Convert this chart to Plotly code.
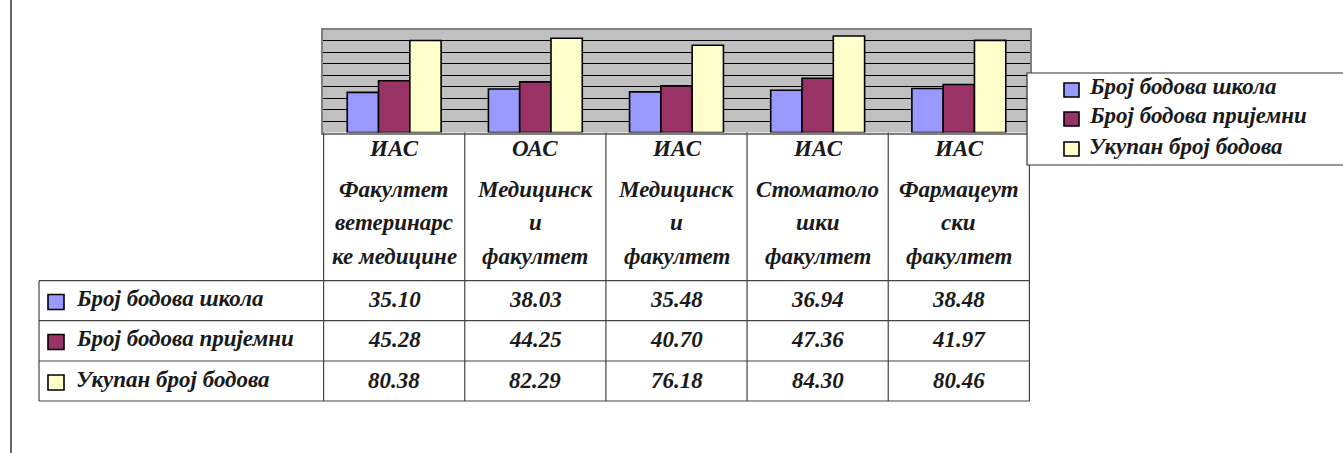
import plotly.graph_objects as go

# ---------------- data ----------------
series_names = ["Број бодова школа", "Број бодова пријемни", "Укупан број бодова"]
series_colors = ["#9999FF", "#993366", "#FFFFCC"]
school_points = [35.10, 38.03, 35.48, 36.94, 38.48]
exam_points = [45.28, 44.25, 40.70, 47.36, 41.97]
total_points = [80.38, 82.29, 76.18, 84.30, 80.46]
study_type = ["ИАС", "ОАС", "ИАС", "ИАС", "ИАС"]
faculty_lines = [
    ["Факултет", "ветеринарс", "ке медицине"],
    ["Медицинск", "и", "факултет"],
    ["Медицинск", "и", "факултет"],
    ["Стоматоло", "шки", "факултет"],
    ["Фармацеут", "ски", "факултет"],
]
categories = [t + " " + "".join(f) for t, f in zip(study_type, faculty_lines)]
series_values = [school_points, exam_points, total_points]

# ---------------- layout helpers ----------------
W, H = 1343, 453
def px(x):
    return x / W
def py(y):
    return 1 - y / H

def font():
    return dict(family="Liberation Serif", size=23, style="italic", weight="bold")

fig = go.Figure()
for name, vals, col in zip(series_names, series_values, series_colors):
    fig.add_trace(go.Bar(x=categories, y=vals, name=name,
                         marker=dict(color=col, line=dict(color="black", width=1.6)),
                         showlegend=False, hoverinfo="skip"))

shapes = []
annotations = []
LINE = dict(color="#444444", width=1.2)

# table grid (columns follow the category axis)
row_lines = [280.7, 320.7, 361, 401]
for yv in row_lines:
    shapes.append(dict(type="line", xref="paper", yref="paper", x0=px(39), x1=px(1030),
                       y0=py(yv), y1=py(yv), line=LINE))
shapes.append(dict(type="line", xref="paper", yref="paper", x0=px(39), x1=px(39),
                   y0=py(280.7), y1=py(401), line=LINE))
for k in range(len(categories) + 1):
    shapes.append(dict(type="line", xref="x", yref="paper", x0=k - 0.5, x1=k - 0.5,
                       y0=py(132.5), y1=py(401), line=LINE))

# outer chart border (left edge visible)
shapes.append(dict(type="line", xref="paper", yref="paper", x0=px(11), x1=px(11),
                   y0=0, y1=1, line=dict(color="black", width=1.2)))

# header text
for i, cat in enumerate(categories):
    annotations.append(dict(x=cat, xref="x", y=py(148), yref="paper", text=study_type[i],
                            showarrow=False, font=font(), xanchor="center", yanchor="middle"))
    for j, line in enumerate(faculty_lines[i]):
        yy = [189, 222, 256][j]
        annotations.append(dict(x=cat, xref="x", y=py(yy), yref="paper", text=line,
                                showarrow=False, font=font(), xanchor="center", yanchor="middle"))

# data rows
row_centers = [300.5, 340.5, 381]
for r, (name, vals, col) in enumerate(zip(series_names, series_values, series_colors)):
    yc = row_centers[r]
    shapes.append(dict(type="rect", xref="paper", yref="paper", x0=px(48), x1=px(64),
                       y0=py(yc - 6), y1=py(yc + 9),
                       fillcolor=col, line=dict(color="black", width=1.6)))
    annotations.append(dict(x=px(74), xref="paper", y=py(yc - 2), yref="paper", text=name,
                            showarrow=False, font=font(), xanchor="left", yanchor="middle"))
    for i, cat in enumerate(categories):
        annotations.append(dict(x=cat, xref="x", y=py(yc - 1), yref="paper",
                                text=f"{vals[i]:.2f}", showarrow=False, font=font(),
                                xanchor="center", yanchor="middle"))

# legend box
shapes.append(dict(type="rect", xref="paper", yref="paper", x0=px(1027), x1=px(1360),
                   y0=py(165), y1=py(73), fillcolor="white", line=dict(color="#333333", width=1.2)))
leg_centers = [88, 117, 147]
for name, col, yc in zip(series_names, series_colors, leg_centers):
    shapes.append(dict(type="rect", xref="paper", yref="paper", x0=px(1064), x1=px(1079),
                       y0=py(yc - 5), y1=py(yc + 9),
                       fillcolor=col, line=dict(color="black", width=1.6)))
    annotations.append(dict(x=px(1087), xref="paper", y=py(yc - 1), yref="paper", text=name,
                            showarrow=False, font=font(), xanchor="left", yanchor="middle"))

fig.update_layout(
    width=W, height=H,
    margin=dict(l=0, r=0, t=0, b=0),
    font=dict(family="Liberation Serif", color="#1a1a1a"),
    paper_bgcolor="white",
    plot_bgcolor="#C0C0C0",
    modebar=dict(bgcolor="rgba(0,0,0,0)", color="rgba(0,0,0,0)", activecolor="rgba(0,0,0,0)"),
    barmode="group", bargap=0.335, bargroupgap=0,
    xaxis=dict(domain=[px(323), px(1030)], showticklabels=False, ticks="",
               showline=True, linecolor="#808080", linewidth=2, mirror=True,
               showgrid=False, zeroline=False, fixedrange=True),
    yaxis=dict(domain=[py(132.5), py(29.5)], range=[0, 90], dtick=10,
               showticklabels=False, ticks="", showgrid=True, gridcolor="black", gridwidth=1,
               showline=True, linecolor="#808080", linewidth=2, mirror=True,
               zeroline=False, fixedrange=True),
    shapes=shapes,
    annotations=annotations,
    showlegend=False,
)

fig.write_html("out.html",
               post_script="document.documentElement.setAttribute('lang','sr');document.body.style.margin='0';"
                           "document.querySelectorAll('.modebar-container').forEach(function(m){m.style.display='none';});")
